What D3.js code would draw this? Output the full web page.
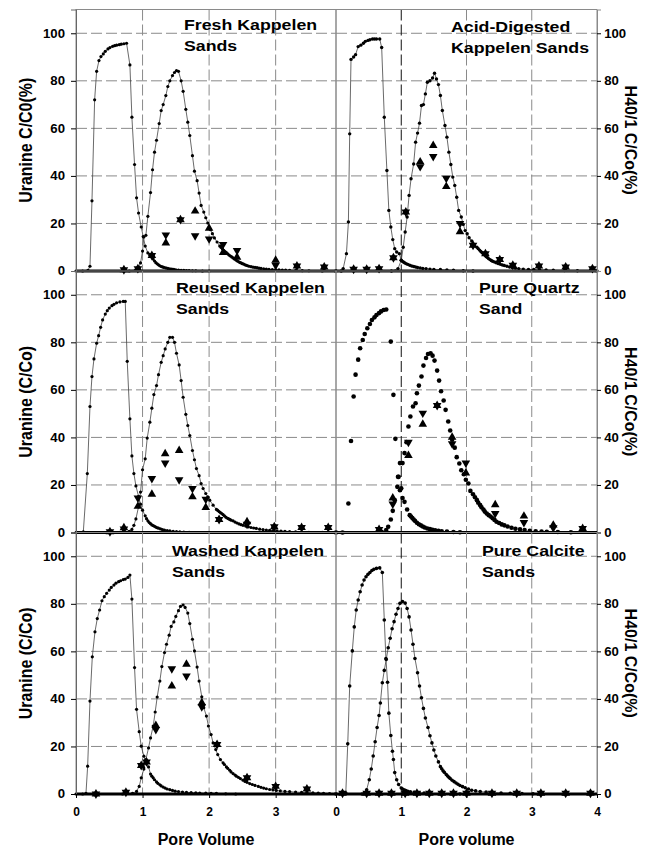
<!DOCTYPE html>
<html><head><meta charset="utf-8">
<script src="https://cdn.jsdelivr.net/npm/d3@7"></script>
<style>body{margin:0;background:#fff}svg{display:block}text{font-family:"Liberation Sans",Arial,sans-serif;font-weight:bold;fill:#000}</style>
</head><body><svg id="c" width="650" height="850"></svg>
<script>
// ---------- labels ----------
const panelTitles = [["Fresh Kappelen","Sands"],["Acid-Digested","Kappelen Sands"],["Reused Kappelen","Sands"],["Pure Quartz","Sand"],["Washed Kappelen","Sands"],["Pure Calcite","Sands"]];
const leftYTitles = ["Uranine C/C0(%)","Uranine (C/Co)","Uranine (C/Co)"];
const rightYTitle = "H40/1 C/Co(%)";
const xTitles = ["Pore Volume","Pore volume"];
const yTicks = [0,20,40,60,80,100];
const xTicksLeft = [0,1,2,3];
const xTicksRight = [0,1,2,3,4];

// ---------- Fresh Kappelen Sands ----------
const freshA = [[0,0],[0.1,0],[0.18,0.3],[0.21,2],[0.24,29.5],[0.28,72],[0.31,84],[0.345,88.5],[0.375,90.2],[0.41,91.3],[0.44,92.4],[0.48,93.4],[0.51,94],[0.55,94.5],[0.58,94.8],[0.61,95],[0.65,95.2],[0.68,95.4],[0.72,95.6],[0.76,95.8],[0.81,86.7],[0.84,64.7],[0.88,44.8],[0.91,30.8],[0.94,24.4],[0.98,18.5],[1.01,14.5],[1.04,10.5],[1.08,7.6],[1.11,6.6],[1.14,5.9],[1.16,5],[1.18,4.2],[1.2,3.5],[1.22,3],[1.24,2.6],[1.26,2.2],[1.28,1.9],[1.3,1.7],[1.32,1.5],[1.35,1.3],[1.38,1.1],[1.41,0.9],[1.44,0.8],[1.47,0.7],[1.5,0.5],[1.54,0.4],[1.58,0.3],[1.62,0.3],[1.66,0.2],[1.7,0.2],[1.75,0.1],[1.8,0.1],[1.9,0],[2.0,0]];
const freshB = [[0.8,0],[0.9,0.5],[0.94,1.5],[0.97,3.4],[1.0,8.4],[1.02,14.3],[1.05,15],[1.08,23],[1.12,33],[1.15,42.6],[1.18,50],[1.21,55],[1.25,62],[1.28,67.5],[1.31,70],[1.35,73.8],[1.38,77.6],[1.41,80],[1.45,82.2],[1.48,83.5],[1.51,84.3],[1.54,84],[1.58,80],[1.61,75.6],[1.65,68],[1.68,62.6],[1.71,57],[1.75,48.5],[1.78,42],[1.82,38],[1.85,32.8],[1.88,27.6],[1.92,24.8],[1.95,22.4],[1.98,20.2],[2.02,17.4],[2.05,15.7],[2.08,13.9],[2.12,12.2],[2.16,10.5],[2.18,9.9],[2.2,9.3],[2.22,8.7],[2.24,8.2],[2.26,7.7],[2.28,7.2],[2.3,6.7],[2.32,6.3],[2.34,5.9],[2.36,5.5],[2.38,5.1],[2.4,4.7],[2.42,4.3],[2.44,4],[2.46,3.6],[2.48,3.4],[2.5,3.1],[2.52,2.9],[2.54,2.6],[2.56,2.4],[2.58,2.2],[2.6,2],[2.63,1.8],[2.66,1.6],[2.69,1.5],[2.72,1.4],[2.75,1.2],[2.78,1.1],[2.82,0.9],[2.86,0.8],[2.9,0.7],[2.95,0.6],[3.0,0.55],[3.05,0.5],[3.1,0.4],[3.15,0.35],[3.21,0.3],[3.3,0.2],[3.4,0.15],[3.5,0.1],[3.7,0.05],[3.9,0]];
const freshUp = [[0.72,0.5],[0.93,1],[1.14,6.5],[1.35,11.8],[1.57,21.6],[1.79,25.2],[2.0,18],[2.21,7.8],[2.42,5.8],[3.0,4.5],[3.32,2.1],[3.73,1.7]];
const freshDown = [[0.72,0.5],[0.93,1],[1.14,6.5],[1.35,15.2],[1.57,21.6],[1.79,14.8],[2.0,13.5],[2.21,11.2],[2.42,8.6],[3.0,2.4],[3.32,2.1],[3.73,1.7]];

// ---------- Acid-Digested Kappelen Sands ----------
const acidA = [[0,0],[0.08,0],[0.11,1],[0.16,7.3],[0.19,20.6],[0.21,57.7],[0.23,89],[0.27,90],[0.3,91],[0.34,94.4],[0.38,95],[0.42,95.8],[0.45,96.6],[0.49,97],[0.52,97.3],[0.56,97.6],[0.59,97.6],[0.62,97.6],[0.67,97.6],[0.7,94],[0.74,64.7],[0.78,42.3],[0.81,25.5],[0.84,18.5],[0.87,13.2],[0.9,9.4],[0.93,8],[0.97,7.3],[1.0,4.5],[1.02,4],[1.04,3.7],[1.06,3.3],[1.08,3],[1.1,2.8],[1.13,2.4],[1.16,2.1],[1.19,1.9],[1.22,1.7],[1.25,1.5],[1.29,1.3],[1.33,1.1],[1.38,1],[1.44,0.8],[1.5,0.7],[1.6,0.6],[1.7,0.4],[1.8,0.3],[1.95,0.1],[2.1,0]];
const acidB = [[0.85,0],[0.95,1],[1.0,4.5],[1.03,10],[1.06,16.4],[1.09,22.7],[1.12,31.8],[1.15,38.8],[1.19,45],[1.22,54.2],[1.25,58],[1.28,62.2],[1.31,69.6],[1.34,70],[1.37,74.5],[1.4,79.4],[1.44,80],[1.48,81.2],[1.51,83.2],[1.54,80.8],[1.57,78.4],[1.6,73.8],[1.63,67.5],[1.67,61.2],[1.7,56.3],[1.73,50],[1.76,44.8],[1.79,39.5],[1.82,36],[1.85,31],[1.88,25.5],[1.92,22.7],[1.95,19.6],[1.98,17],[2.01,15.7],[2.04,14],[2.08,12.6],[2.11,11.2],[2.16,10],[2.18,9.4],[2.2,8.8],[2.22,8.2],[2.24,7.7],[2.26,7.2],[2.28,6.7],[2.3,6.2],[2.32,5.7],[2.34,5.2],[2.36,4.8],[2.38,4.4],[2.4,4.1],[2.43,3.8],[2.46,3.4],[2.49,3.1],[2.52,2.8],[2.55,2.5],[2.58,2.3],[2.62,2],[2.66,1.7],[2.7,1.5],[2.75,1.2],[2.8,1],[2.87,0.8],[2.95,0.7],[3.03,0.6],[3.12,0.5],[3.22,0.4],[3.33,0.3],[3.5,0.2],[3.7,0.1],[4,0]];
const acidUp = [[0.27,0.7],[0.47,0.7],[0.66,1],[0.88,5.6],[1.07,24.8],[1.29,45.9],[1.49,52.8],[1.69,35.5],[1.9,16.5],[2.1,10.8],[2.29,7.3],[2.51,4.8],[2.71,2.4],[3.11,2.1],[3.52,1.7],[3.93,1]];
const acidDown = [[0.27,0.7],[0.47,0.7],[0.66,1],[0.88,5.6],[1.07,24.8],[1.29,43.9],[1.49,48.2],[1.69,39],[1.9,20],[2.1,10.8],[2.29,7.3],[2.51,4.8],[2.71,2.4],[3.11,2.1],[3.52,1.7],[3.93,1]];

// ---------- Reused Kappelen Sands ----------
const reusedA = [[0,0],[0.08,0],[0.11,0.3],[0.17,24.8],[0.21,53],[0.24,65.6],[0.27,73],[0.31,79.6],[0.34,82.8],[0.37,86.3],[0.4,89.4],[0.44,91.9],[0.47,93.3],[0.5,94.4],[0.54,95.4],[0.57,96],[0.61,96.6],[0.66,97],[0.71,97.2],[0.74,97.2],[0.77,72],[0.81,47.8],[0.84,32.2],[0.87,24.8],[0.9,19.6],[0.94,15.2],[0.97,11.9],[1.0,9.4],[1.04,7],[1.06,5.8],[1.08,4.9],[1.1,4.2],[1.12,3.7],[1.14,3.2],[1.16,2.9],[1.18,2.6],[1.2,2.3],[1.22,2],[1.24,1.8],[1.27,1.5],[1.3,1.2],[1.33,1],[1.37,0.8],[1.41,0.7],[1.46,0.5],[1.51,0.4],[1.56,0.3],[1.62,0.2],[1.7,0.1],[1.8,0]];
const reusedB = [[0.6,0],[0.8,0.5],[0.84,1.3],[0.87,3],[0.9,5.7],[0.94,10.8],[0.97,17],[1.0,26.4],[1.04,31],[1.07,39.7],[1.11,46.4],[1.14,52.3],[1.17,58],[1.21,61.8],[1.24,66.4],[1.28,71.6],[1.31,74.4],[1.34,77.2],[1.38,80],[1.41,82.1],[1.45,82.1],[1.48,80],[1.51,75.4],[1.55,70.5],[1.58,63.9],[1.61,56.9],[1.65,49.7],[1.68,45],[1.71,40.8],[1.75,34.5],[1.78,30.6],[1.81,26.9],[1.85,23.9],[1.88,20.6],[1.91,18.5],[1.95,16.4],[1.98,15],[2.01,13.6],[2.06,11.5],[2.11,9.7],[2.13,9.3],[2.15,8.8],[2.17,8.4],[2.19,8],[2.21,7.5],[2.23,7],[2.25,6.5],[2.27,6.1],[2.29,5.8],[2.31,5.5],[2.33,5.2],[2.36,4.9],[2.39,4.4],[2.42,4],[2.45,3.6],[2.48,3.3],[2.51,3],[2.55,2.7],[2.59,2.4],[2.63,2.1],[2.67,1.9],[2.71,1.7],[2.76,1.4],[2.81,1.2],[2.86,1],[2.91,0.9],[2.96,0.8],[3.02,0.7],[3.08,0.6],[3.14,0.5],[3.21,0.4],[3.3,0.3],[3.4,0.2],[3.5,0.1],[3.7,0.05],[3.9,0]];
const reusedUp = [[0.51,0.3],[0.72,2],[0.93,11],[1.14,16.1],[1.34,33.1],[1.55,34.5],[1.75,15],[1.95,10.5],[2.15,5.5],[2.57,4.5],[2.98,2.4],[3.39,2.1],[3.79,2.1]];
const reusedDown = [[0.51,0.3],[0.72,1.5],[0.93,14.5],[1.14,22.7],[1.34,29.2],[1.55,22.2],[1.75,18.5],[1.95,14],[2.15,5.5],[2.57,3.5],[2.98,2.4],[3.39,2.1],[3.79,2.1]];

// ---------- Pure Quartz Sand ----------
const quartzA = [[0,0],[0.1,0],[0.19,12.2],[0.23,38.5],[0.27,57.2],[0.3,66.4],[0.34,72.7],[0.37,77.5],[0.41,81],[0.44,83.5],[0.48,85.9],[0.52,87.7],[0.55,89.4],[0.59,90.5],[0.62,91.5],[0.66,92.3],[0.69,93],[0.73,93.6],[0.77,93.8],[0.84,80.3],[0.88,57.9],[0.91,39.4],[0.95,23.4],[0.98,17.8],[1.0,18.6],[1.02,14.5],[1.05,12.9],[1.09,9.7],[1.13,7.3],[1.15,6.7],[1.17,6.1],[1.19,5.5],[1.21,4.9],[1.24,4.1],[1.27,3.5],[1.3,3],[1.33,2.5],[1.36,2.1],[1.4,1.7],[1.44,1.4],[1.48,1.1],[1.52,0.9],[1.57,0.7],[1.62,0.5],[1.7,0.4],[1.8,0.2],[1.9,0.1]];
const quartzB = [[0.7,0.3],[0.77,1],[0.8,2.4],[0.84,5.5],[0.87,9.1],[0.9,13.6],[0.94,19.2],[0.96,23.4],[0.98,29.2],[1.02,29.2],[1.05,33.4],[1.08,38],[1.11,44.6],[1.14,48.8],[1.18,53],[1.22,54.4],[1.24,58.6],[1.27,61.8],[1.31,65.6],[1.34,70.2],[1.38,73.4],[1.41,75.1],[1.45,75.4],[1.48,74.4],[1.51,72.3],[1.55,68.1],[1.58,63.9],[1.61,59.4],[1.65,55.5],[1.68,51.6],[1.72,46.7],[1.75,42.9],[1.78,39],[1.82,35.7],[1.85,31.7],[1.89,29],[1.92,26.2],[1.96,24.5],[1.99,22.2],[2.03,20.6],[2.06,17.5],[2.1,16.1],[2.13,14.8],[2.16,13.6],[2.18,12.5],[2.21,11.5],[2.23,10.6],[2.26,9.7],[2.28,8.8],[2.31,8],[2.34,7.3],[2.37,6.7],[2.4,6],[2.43,5.3],[2.46,4.5],[2.5,4],[2.54,3.4],[2.58,3],[2.63,2.5],[2.69,2],[2.75,1.6],[2.82,1.3],[2.89,1],[2.97,0.7],[3.06,0.5],[3.15,0.4],[3.23,0.3],[3.4,0.2],[3.6,0.1]];
const quartzUp = [[0.66,1.3],[0.87,14.5],[1.11,32.4],[1.33,45.5],[1.55,53.4],[1.78,40.1],[1.99,25],[2.44,11.7],[2.88,6.9],[3.33,3.1],[3.78,1.7]];
const quartzDown = [[0.66,1.3],[0.87,12],[1.11,38],[1.33,50.2],[1.55,53.4],[1.78,37.3],[1.99,29.2],[2.44,8],[2.88,4.2],[3.33,2],[3.78,1.7]];

// ---------- Washed Kappelen Sands ----------
const washedA = [[0,0],[0.1,0],[0.15,0.3],[0.175,11.7],[0.21,39.1],[0.245,57.7],[0.285,68.2],[0.32,73.8],[0.355,77.4],[0.39,81.3],[0.425,83],[0.46,84.4],[0.5,85.8],[0.53,86.9],[0.57,87.9],[0.6,88.7],[0.64,89.3],[0.67,89.7],[0.71,90.2],[0.74,90.4],[0.78,91.1],[0.81,92.1],[0.84,82],[0.88,53.2],[0.91,35.6],[0.95,26.2],[0.98,20.1],[1.02,15.9],[1.05,13.1],[1.09,11.4],[1.12,8.4],[1.14,7.5],[1.16,6.8],[1.18,6],[1.21,5.1],[1.23,4.5],[1.26,3.9],[1.28,3.4],[1.31,2.9],[1.34,2.5],[1.37,2.1],[1.41,1.8],[1.45,1.5],[1.49,1.2],[1.54,1],[1.6,0.8],[1.66,0.7],[1.73,0.6],[1.8,0.5],[1.86,0.4],[1.95,0.35],[2.03,0.3],[2.11,0.3],[2.25,0.1],[2.4,0]];
const washedB = [[0.7,0],[0.85,0.3],[0.91,1.1],[0.95,3.2],[0.98,6.8],[1.02,10.5],[1.05,14.5],[1.09,19.4],[1.12,23.6],[1.16,28.6],[1.19,34.5],[1.22,40.8],[1.26,47.5],[1.29,53.6],[1.33,59.5],[1.36,63],[1.4,66.8],[1.43,70.5],[1.47,72.4],[1.5,74.7],[1.54,77.1],[1.57,78.9],[1.61,79.5],[1.64,78.5],[1.68,76.1],[1.71,71.7],[1.75,65.1],[1.78,60.2],[1.82,53.4],[1.85,47.5],[1.89,40.9],[1.92,36.3],[1.96,32.8],[1.99,28.6],[2.03,25],[2.06,21.5],[2.1,18.7],[2.13,16.6],[2.17,14.5],[2.21,13.1],[2.23,12.4],[2.26,11.4],[2.28,10.8],[2.31,10],[2.33,9.3],[2.36,8.6],[2.39,8],[2.41,7.5],[2.44,7],[2.47,6.5],[2.51,5.8],[2.54,5.3],[2.57,4.9],[2.61,4.4],[2.65,4],[2.69,3.6],[2.74,3.2],[2.78,2.8],[2.82,2.5],[2.86,2.2],[2.91,1.9],[2.96,1.7],[3.01,1.5],[3.07,1.3],[3.14,1.1],[3.21,1],[3.3,0.8],[3.39,0.7],[3.47,0.6],[3.56,0.5],[3.64,0.4],[3.72,0.3],[3.81,0.2],[3.9,0.1]];
const washedUp = [[0.3,0],[0.75,0.7],[0.98,12],[1.06,13.5],[1.2,28.8],[1.44,45.4],[1.66,54.6],[1.89,38.4],[2.12,20.8],[2.57,6.8],[3.0,3.2],[3.47,2.1]];
const washedDown = [[0.3,0],[0.75,0.7],[0.98,12],[1.06,13.5],[1.2,27.1],[1.44,52.7],[1.66,49.6],[1.89,36.7],[2.12,20.8],[2.57,6.8],[3.0,3.2],[3.47,2.1]];

// ---------- Pure Calcite Sands ----------
const calciteA = [[0,0],[0.1,0],[0.15,0.4],[0.18,21.1],[0.21,45.4],[0.25,60.2],[0.28,70.3],[0.31,77.4],[0.34,81.6],[0.37,85.1],[0.4,87.9],[0.43,90],[0.46,91.4],[0.49,92.4],[0.52,93.2],[0.55,94],[0.58,94.5],[0.62,94.9],[0.67,95.1],[0.71,93.2],[0.74,73.2],[0.765,57],[0.79,47],[0.81,34],[0.84,24.6],[0.865,18],[0.88,14.5],[0.9,9],[0.93,6],[0.96,4],[1.0,2.5],[1.02,2.1],[1.04,1.8],[1.07,1.4],[1.1,1.1],[1.14,0.9],[1.2,0.7],[1.27,0.5],[1.35,0.4],[1.45,0.2],[1.6,0.1],[1.9,0]];
const calciteB = [[0.4,0],[0.44,0.4],[0.47,1.8],[0.51,6],[0.54,10.5],[0.57,16],[0.6,22],[0.63,28],[0.66,33],[0.68,38.3],[0.71,46.8],[0.74,52],[0.77,56.6],[0.8,61.5],[0.83,65.5],[0.86,69.5],[0.89,72.5],[0.92,75.6],[0.95,78],[0.98,80.2],[1.02,81],[1.06,80.3],[1.09,78],[1.12,74.5],[1.15,69],[1.18,63],[1.21,57],[1.25,51],[1.28,45.4],[1.31,40.5],[1.34,36],[1.37,32],[1.41,28],[1.44,24.5],[1.47,21.5],[1.5,18.5],[1.53,16],[1.57,13.5],[1.6,11.5],[1.62,10.6],[1.64,9.8],[1.66,9.1],[1.69,8.2],[1.71,7.6],[1.73,7],[1.75,6.5],[1.78,5.8],[1.81,5.2],[1.84,4.6],[1.87,4.1],[1.9,3.6],[1.94,3.1],[1.98,2.6],[2.03,2.1],[2.08,1.6],[2.14,1.3],[2.21,1],[2.3,0.8],[2.41,0.6],[2.53,0.4],[2.67,0.3],[2.85,0.2],[3.02,0.1],[3.5,0]];
const calciteUp = [[0.1,0.3],[0.47,0.3],[0.66,0.3],[0.85,0.3],[1.06,0.3],[1.24,0.3],[1.43,0.3],[1.62,0.3],[1.8,0.3],[2.0,0.3],[2.39,0.3],[2.77,0.3],[3.14,0.3],[3.52,0.3],[3.9,0.3]];
const calciteDown = [[0.1,0.3],[0.47,0.3],[0.66,0.3],[0.85,0.3],[1.06,0.3],[1.24,0.3],[1.43,0.3],[1.62,0.3],[1.8,0.3],[2.0,0.3],[2.39,0.3],[2.77,0.3],[3.14,0.3],[3.52,0.3],[3.9,0.3]];

// ---------- layout ----------
const cols = [{x0:76,x1:336,dom:[0,3.907],xt:xTicksLeft},{x0:336,x1:597,dom:[0,4],xt:xTicksRight}];
const rows = [{y0:9.5,y1:271},{y0:271,y1:532.5},{y0:532.5,y1:794}];
const panels = [
  {t:panelTitles[0],A:freshA,B:freshB,up:freshUp,dn:freshDown,r:0,c:0,tx:184,ty:29.5,lines:true,rad:1.6},
  {t:panelTitles[1],A:acidA,B:acidB,up:acidUp,dn:acidDown,r:0,c:1,tx:451,ty:31.5,lines:true,rad:1.7},
  {t:panelTitles[2],A:reusedA,B:reusedB,up:reusedUp,dn:reusedDown,r:1,c:0,tx:176,ty:292.5,lines:true,rad:1.6},
  {t:panelTitles[3],A:quartzA,B:quartzB,up:quartzUp,dn:quartzDown,r:1,c:1,tx:479,ty:292.5,lines:false,rad:2.3},
  {t:panelTitles[4],A:washedA,B:washedB,up:washedUp,dn:washedDown,r:2,c:0,tx:172,ty:556,lines:true,rad:1.6},
  {t:panelTitles[5],A:calciteA,B:calciteB,up:calciteUp,dn:calciteDown,r:2,c:1,tx:482,ty:556,lines:true,rad:1.8}
];

const svg = d3.select("#c");
const tri = d3.symbol().type(d3.symbolTriangle).size(32)();

panels.forEach(p => {
  const col = cols[p.c], row = rows[p.r];
  const x = d3.scaleLinear().domain(col.dom).range([col.x0,col.x1]);
  const y = d3.scaleLinear().domain([0,110]).range([row.y1,row.y0]);
  const g = svg.append("g");
  // grid
  g.selectAll(".hg").data(yTicks.filter(v=>v>0)).join("line")
    .attr("x1",col.x0).attr("x2",col.x1).attr("y1",d=>y(d)).attr("y2",d=>y(d))
    .attr("stroke","#8a8a8a").attr("stroke-width",1).attr("stroke-dasharray","11,4");
  g.selectAll(".vg").data([1,2,3]).join("line")
    .attr("x1",d=>x(d)).attr("x2",d=>x(d)).attr("y1",row.y0).attr("y2",row.y1)
    .attr("stroke",d=>(p.c===1&&d===1)?"#111":"#8a8a8a").attr("stroke-width",1).attr("stroke-dasharray","11,4");
  // frame
  g.append("rect").attr("x",col.x0).attr("y",row.y0).attr("width",col.x1-col.x0).attr("height",row.y1-row.y0)
    .attr("fill","none").attr("stroke","#8a8a8a").attr("stroke-width",1);
  // lines
  if (p.lines) {
    const ln = d3.line().x(d=>x(d[0])).y(d=>y(d[1]));
    [p.A,p.B].forEach(s => g.append("path").attr("d",ln(s)).attr("fill","none").attr("stroke","#444").attr("stroke-width",0.8));
  }
  // zero band
  g.append("line").attr("x1",col.x0).attr("x2",col.x1).attr("y1",y(0)).attr("y2",y(0)).attr("stroke","#000").attr("stroke-width",3.2);
  // dots
  [p.A,p.B].forEach(s => g.append("g").selectAll("circle").data(s).join("circle")
    .attr("cx",d=>x(d[0])).attr("cy",d=>y(d[1])).attr("r",p.rad).attr("fill","#000"));
  // triangles
  g.append("g").selectAll("path").data(p.up).join("path").attr("d",tri)
    .attr("transform",d=>`translate(${x(d[0])},${y(d[1])})`).attr("fill","#000");
  g.append("g").selectAll("path").data(p.dn).join("path").attr("d",tri)
    .attr("transform",d=>`translate(${x(d[0])},${y(d[1])}) rotate(180)`).attr("fill","#000");
  // title
  p.t.forEach((s,i) => g.append("text").attr("transform",`translate(${p.tx},${p.ty+i*21}) scale(1.2,1)`)
    .attr("font-size",14.8).text(s));
  // y axes
  if (p.c===0) {
    const ax = g.append("g").attr("transform",`translate(${col.x0},0)`)
      .call(d3.axisLeft(y).tickValues(yTicks).tickSize(5).tickPadding(5));
    ax.select(".domain").attr("stroke","#666");
    ax.selectAll("text").attr("font-size",12).attr("transform","scale(1.1,1)");
    g.append("text").attr("transform",`translate(32,${(row.y0+row.y1)/2}) scale(1.12,1) rotate(-90)`)
      .attr("text-anchor","middle").attr("font-size",16).text(leftYTitles[p.r]);
  } else {
    const ax = g.append("g").attr("transform",`translate(${col.x1},0)`)
      .call(d3.axisRight(y).tickValues(yTicks).tickSize(4).tickPadding(2.5));
    ax.select(".domain").attr("stroke","#8a8a8a");
    ax.selectAll("text").attr("font-size",12).attr("transform","scale(1.1,1)");
    g.append("text").attr("transform",`translate(625,${(row.y0+row.y1)/2}) scale(1.05,1) rotate(90)`)
      .attr("text-anchor","middle").attr("font-size",16).text(rightYTitle);
  }
  // x axis
  if (p.r===2) {
    const ax = g.append("g").attr("transform",`translate(0,${row.y1})`)
      .call(d3.axisBottom(x).tickValues(col.xt).tickSize(4).tickPadding(9).tickFormat(d3.format("d")));
    ax.select(".domain").remove();
    ax.selectAll("text").attr("font-size",12);
    g.append("text").attr("x",(col.x0+col.x1)/2).attr("y",845).attr("text-anchor","middle")
      .attr("font-size",16).text(xTitles[p.c]);
  }
});
</script></body></html>
